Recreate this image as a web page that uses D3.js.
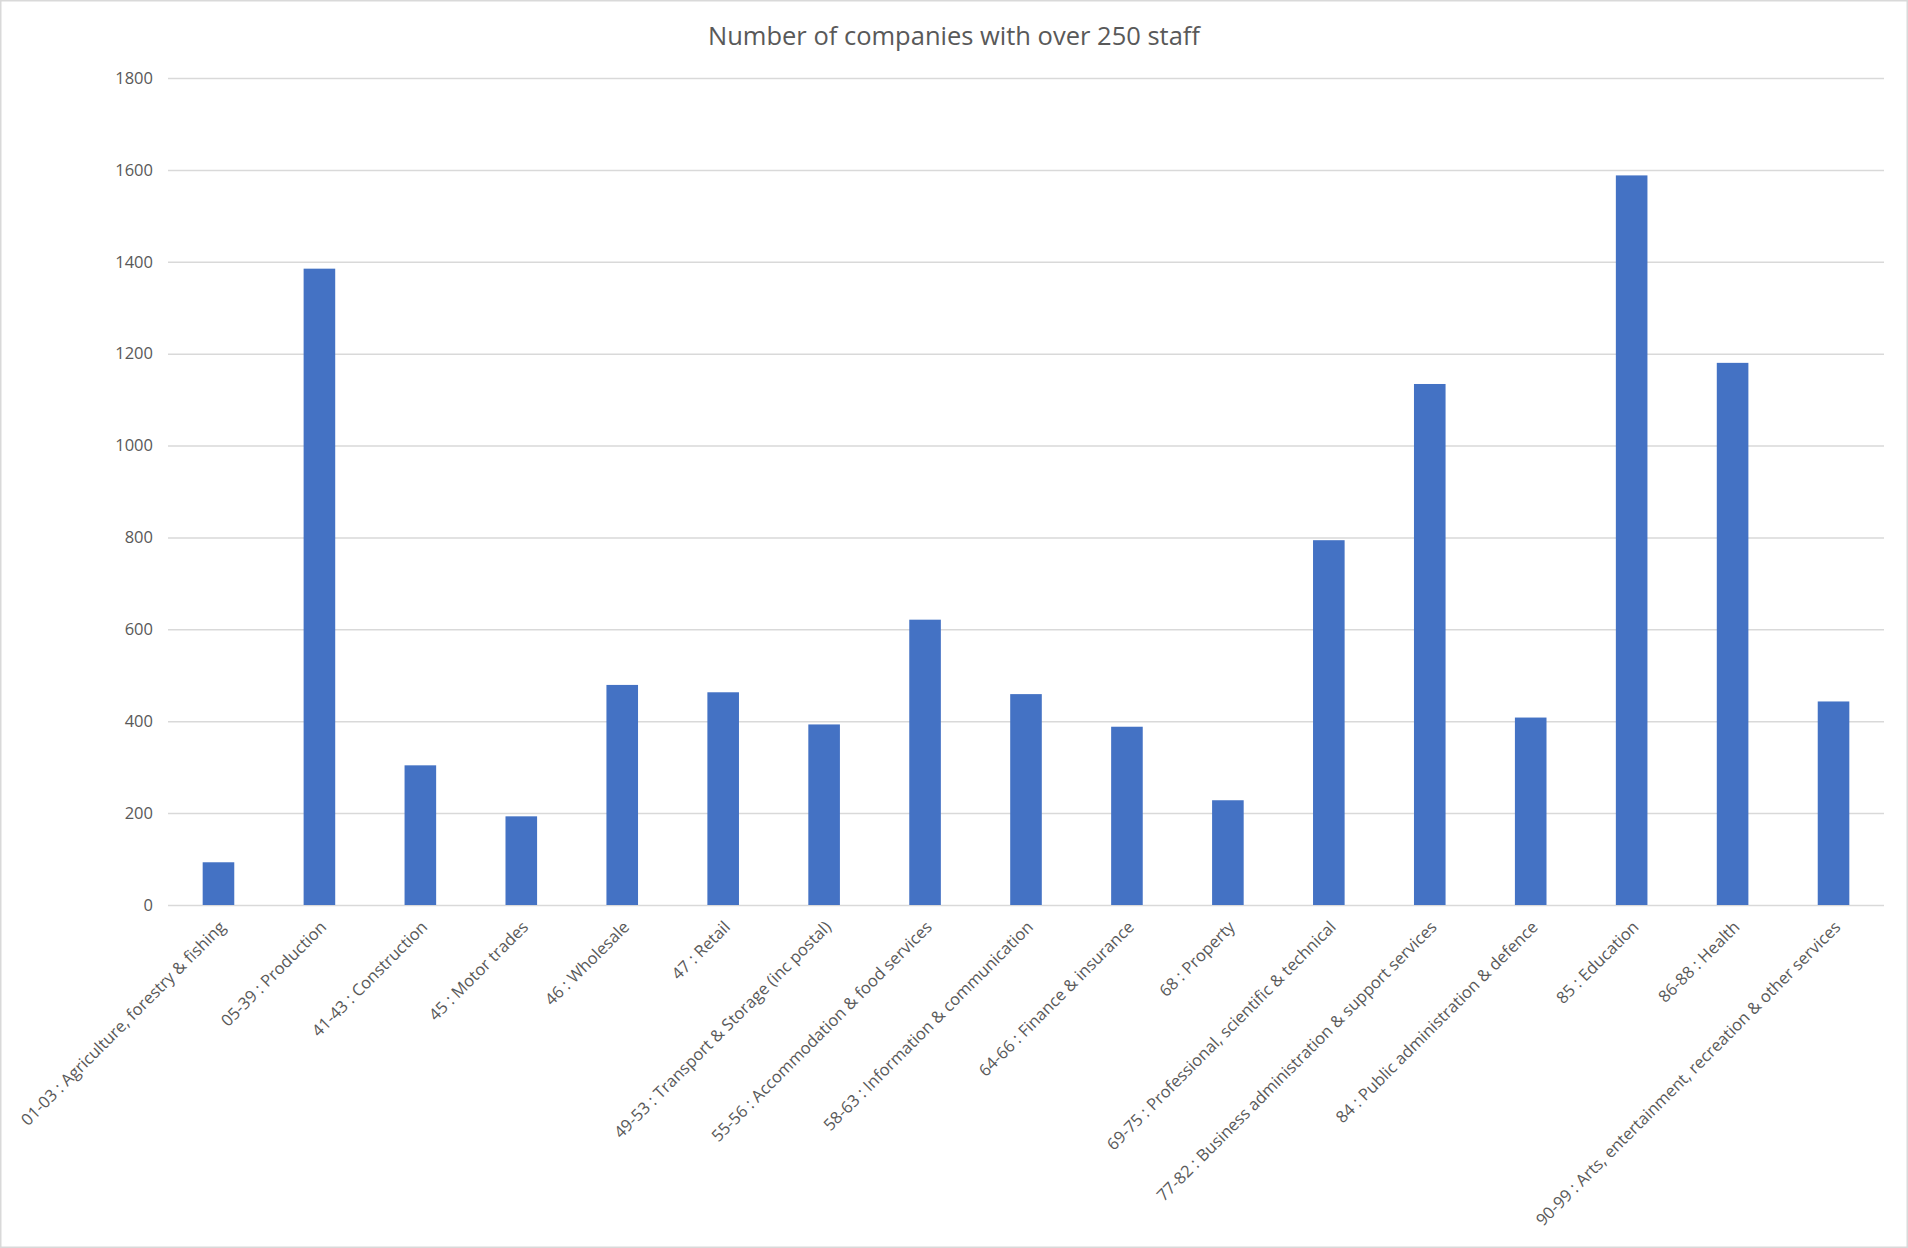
<!DOCTYPE html>
<html>
<head>
<meta charset="utf-8">
<script src="https://cdn.jsdelivr.net/npm/d3@7"></script>
<style>
  body { margin: 0; background: #fff; }
  text { font-family: "Open Sans", "Noto Sans", sans-serif; fill: #595959; }
</style>
</head>
<body>
<script>
// Chart data
var categories = [
  "01-03 : Agriculture, forestry & fishing",
  "05-39 : Production",
  "41-43 : Construction",
  "45 : Motor trades",
  "46 : Wholesale",
  "47 : Retail",
  "49-53 : Transport & Storage (inc postal)",
  "55-56 : Accommodation & food services",
  "58-63 : Information & communication",
  "64-66 : Finance & insurance",
  "68 : Property",
  "69-75 : Professional, scientific & technical",
  "77-82 : Business administration & support services",
  "84 : Public administration & defence",
  "85 : Education",
  "86-88 : Health",
  "90-99 : Arts, entertainment, recreation & other services"
];
var companies = [93, 1385, 304, 193, 479, 463, 393, 621, 459, 388, 228, 794, 1134, 408, 1588, 1180, 443];
var yTicks = [0, 200, 400, 600, 800, 1000, 1200, 1400, 1600, 1800];

// SVG area
var svgWidth = 1908;
var svgHeight = 1248;

var chartMargin = {
  top: 78,
  right: 24,
  bottom: 343,
  left: 168
};

var chartWidth = svgWidth - chartMargin.left - chartMargin.right;
var chartHeight = svgHeight - chartMargin.top - chartMargin.bottom;

var svg = d3.select("body")
  .append("svg")
  .attr("height", svgHeight)
  .attr("width", svgWidth);

// outer border of the chart
svg.append("rect")
  .attr("x", 0.75)
  .attr("y", 0.75)
  .attr("width", svgWidth - 1.5)
  .attr("height", svgHeight - 1.5)
  .attr("fill", "#fff")
  .attr("stroke", "#d9d9d9")
  .attr("stroke-width", 1.5);

// title
svg.append("text")
  .attr("x", 954)
  .attr("y", 45)
  .attr("text-anchor", "middle")
  .style("font-size", "25.5px")
  .text("Number of companies with over 250 staff");

var chartGroup = svg.append("g")
  .attr("transform", `translate(${chartMargin.left}, ${chartMargin.top})`);

// scales
var xBandScale = d3.scaleBand()
  .domain(categories)
  .range([0, chartWidth])
  .paddingInner(0.687)
  .paddingOuter(0.3435);

var yLinearScale = d3.scaleLinear()
  .domain([0, 1800])
  .range([chartHeight, 0]);

// gridlines + y labels
var leftAxis = d3.axisLeft(yLinearScale)
  .tickValues(yTicks)
  .tickFormat(d3.format("d"))
  .tickSize(-chartWidth)
  .tickPadding(15);

var yAxisGroup = chartGroup.append("g")
  .call(leftAxis);

yAxisGroup.select(".domain").remove();
yAxisGroup.selectAll("line")
  .attr("stroke", "#d9d9d9")
  .attr("stroke-width", 1.5);
yAxisGroup.selectAll("text")
  .style("font-size", "16.5px")
  .attr("fill", "#595959");

// bars
chartGroup.selectAll(".bar")
  .data(companies)
  .enter().append("rect")
  .attr("class", "bar")
  .attr("x", (d, i) => xBandScale(categories[i]))
  .attr("y", d => yLinearScale(d))
  .attr("width", xBandScale.bandwidth())
  .attr("height", d => chartHeight - yLinearScale(d))
  .style("fill", "#4472c4");

// x axis labels, rotated
var bottomAxis = d3.axisBottom(xBandScale)
  .tickSize(0)
  .tickPadding(0);

var xAxisGroup = chartGroup.append("g")
  .attr("transform", `translate(0, ${chartHeight})`)
  .call(bottomAxis);

xAxisGroup.select(".domain").remove();
xAxisGroup.selectAll("text")
  .style("font-size", "16.5px")
  .attr("fill", "#595959")
  .attr("text-anchor", "end")
  .attr("dy", "0.35em")
  .attr("transform", "translate(4, 19) rotate(-45)");
</script>
</body>
</html>
